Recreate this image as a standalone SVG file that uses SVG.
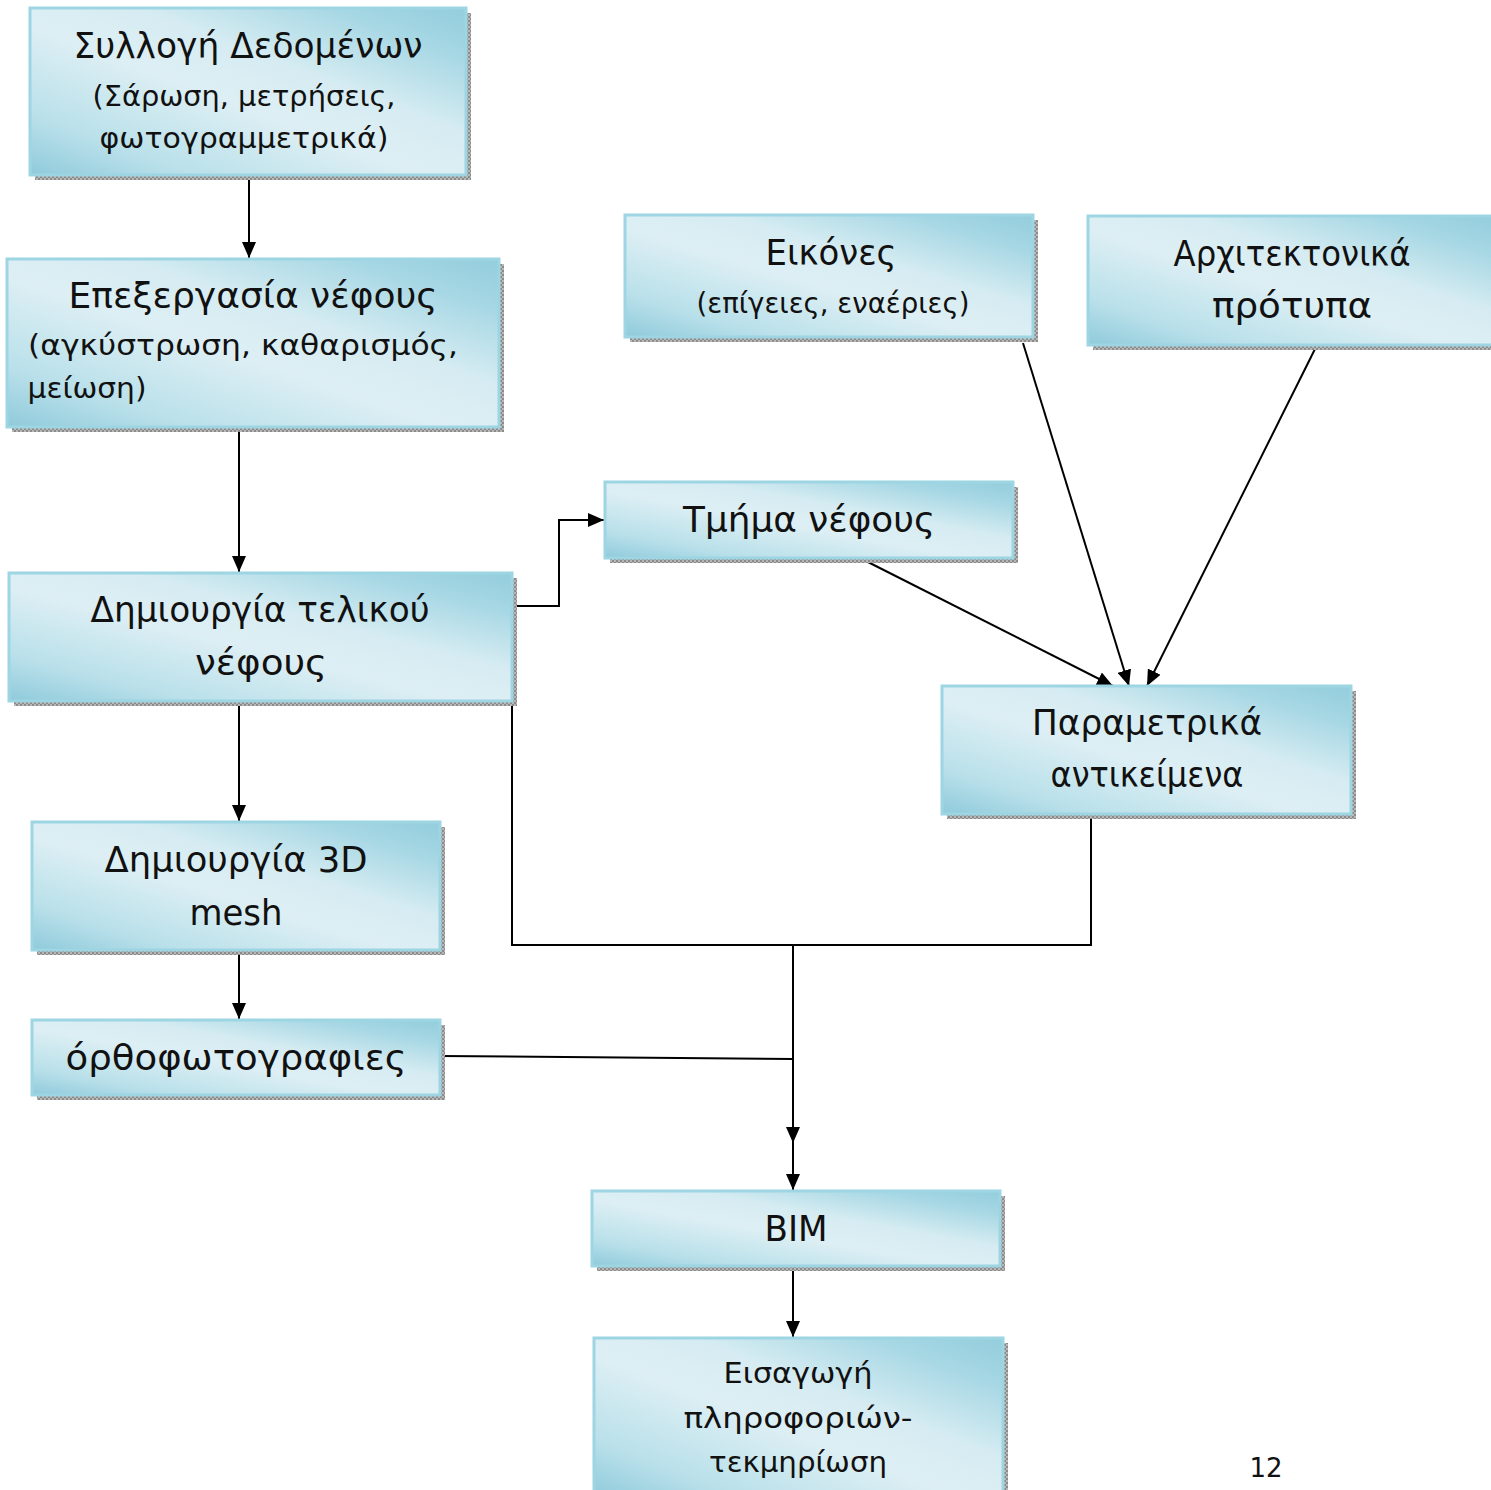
<svg xmlns="http://www.w3.org/2000/svg" width="1491" height="1490" viewBox="0 0 1491 1490">
<style>
.box{fill:url(#g);stroke:#9dd5e3;stroke-width:3}
.sh{fill:url(#dots)}
.t{font-family:"DejaVu Sans","Noto Sans",sans-serif;fill:#111;text-anchor:middle}
.l{font-size:35px}
.s{font-size:29px}
.c{fill:none;stroke:#000;stroke-width:2}
</style>
<defs>
<linearGradient id="g" x1="0" y1="1" x2="1" y2="0">
<stop offset="0" stop-color="#8fcadb"/>
<stop offset="0.18" stop-color="#b9e0ea"/>
<stop offset="0.45" stop-color="#ddeff4"/>
<stop offset="0.62" stop-color="#d6ecf2"/>
<stop offset="0.85" stop-color="#a6d7e4"/>
<stop offset="1" stop-color="#93cddc"/>
</linearGradient>
<pattern id="dots" width="4" height="4" patternUnits="userSpaceOnUse">
<rect width="4" height="4" fill="#b8b8b8"/>
<rect width="2" height="2" fill="#8a8a8a"/>
<rect x="2" y="2" width="2" height="2" fill="#8a8a8a"/>
</pattern>
<marker id="ah" markerUnits="userSpaceOnUse" markerWidth="18" markerHeight="14" refX="16" refY="7" orient="auto">
<path d="M0,0 L16,7 L0,14 Z" fill="#000"/>
</marker>
</defs>

<g id="connectors">
<path class="c" d="M249,175 V258" marker-end="url(#ah)"/>
<path class="c" d="M239,427 V572" marker-end="url(#ah)"/>
<path class="c" d="M513,606 H559 V520 H604" marker-end="url(#ah)"/>
<path class="c" d="M239,701 V821" marker-end="url(#ah)"/>
<path class="c" d="M239,950 V1019" marker-end="url(#ah)"/>
<path class="c" d="M512,701 V945 H1091 V814"/>
<path class="c" d="M793,945 V1143" marker-end="url(#ah)"/>
<path class="c" d="M793,1143 V1190" marker-end="url(#ah)"/>
<path class="c" d="M440,1056 L793,1059"/>
<path class="c" d="M793,1266 V1337" marker-end="url(#ah)"/>
<path class="c" d="M860,558 L1113,686" marker-end="url(#ah)"/>
<path class="c" d="M1023,343 L1129,686" marker-end="url(#ah)"/>
<path class="c" d="M1317,345 L1147,686" marker-end="url(#ah)"/>
</g>

<g id="n-sylogi">
<rect class="sh" x="35" y="13" width="436" height="167"/>
<rect class="box" x="30" y="8" width="436" height="167"/>
<text class="t l" x="248" y="58" textLength="349" lengthAdjust="spacingAndGlyphs">Συλλογή Δεδομένων</text>
<text class="t s" x="244" y="106" textLength="303" lengthAdjust="spacingAndGlyphs">(Σάρωση, μετρήσεις,</text>
<text class="t s" x="244" y="148" textLength="289" lengthAdjust="spacingAndGlyphs">φωτογραμμετρικά)</text>
</g>

<g id="n-epexergasia">
<rect class="sh" x="12" y="264" width="492" height="168"/>
<rect class="box" x="7" y="259" width="492" height="168"/>
<text class="t l" x="253" y="308" textLength="369" lengthAdjust="spacingAndGlyphs">Επεξεργασία νέφους</text>
<text class="t s" x="243" y="355" textLength="430" lengthAdjust="spacingAndGlyphs">(αγκύστρωση, καθαρισμός,</text>
<text class="t s" x="87" y="398" textLength="119" lengthAdjust="spacingAndGlyphs">μείωση)</text>
</g>

<g id="n-teliko">
<rect class="sh" x="14" y="578" width="503" height="128"/>
<rect class="box" x="9" y="573" width="503" height="128"/>
<text class="t l" x="260" y="622" textLength="339" lengthAdjust="spacingAndGlyphs">Δημιουργία τελικού</text>
<text class="t l" x="261" y="675" textLength="132" lengthAdjust="spacingAndGlyphs">νέφους</text>
</g>

<g id="n-mesh">
<rect class="sh" x="37" y="827" width="408" height="128"/>
<rect class="box" x="32" y="822" width="408" height="128"/>
<text class="t l" x="236" y="872" textLength="263" lengthAdjust="spacingAndGlyphs">Δημιουργία 3D</text>
<text class="t l" x="236" y="925" textLength="93" lengthAdjust="spacingAndGlyphs">mesh</text>
</g>

<g id="n-ortho">
<rect class="sh" x="37" y="1025" width="408" height="75"/>
<rect class="box" x="32" y="1020" width="408" height="75"/>
<text class="t l" x="236" y="1070" textLength="341" lengthAdjust="spacingAndGlyphs">όρθοφωτογραφιες</text>
</g>

<g id="n-eikones">
<rect class="sh" x="630" y="220" width="408" height="122"/>
<rect class="box" x="625" y="215" width="408" height="122"/>
<text class="t l" x="831" y="265" textLength="131" lengthAdjust="spacingAndGlyphs">Εικόνες</text>
<text class="t s" x="833" y="313" textLength="273" lengthAdjust="spacingAndGlyphs">(επίγειες, εναέριες)</text>
</g>

<g id="n-arxitektonika">
<rect class="sh" x="1093" y="221" width="410" height="129"/>
<rect class="box" x="1088" y="216" width="410" height="129"/>
<text class="t l" x="1292" y="266" textLength="237" lengthAdjust="spacingAndGlyphs">Αρχιτεκτονικά</text>
<text class="t l" x="1292" y="318" textLength="160" lengthAdjust="spacingAndGlyphs">πρότυπα</text>
</g>

<g id="n-tmima">
<rect class="sh" x="610" y="487" width="408" height="76"/>
<rect class="box" x="605" y="482" width="408" height="76"/>
<text class="t l" x="809" y="532" textLength="252" lengthAdjust="spacingAndGlyphs">Τμήμα νέφους</text>
</g>

<g id="n-parametrika">
<rect class="sh" x="947" y="691" width="409" height="128"/>
<rect class="box" x="942" y="686" width="409" height="128"/>
<text class="t l" x="1147" y="735" textLength="230" lengthAdjust="spacingAndGlyphs">Παραμετρικά</text>
<text class="t l" x="1147" y="787" textLength="193" lengthAdjust="spacingAndGlyphs">αντικείμενα</text>
</g>

<g id="n-bim">
<rect class="sh" x="597" y="1196" width="408" height="75"/>
<rect class="box" x="592" y="1191" width="408" height="75"/>
<text class="t l" x="796" y="1241" textLength="63" lengthAdjust="spacingAndGlyphs">BIM</text>
</g>

<g id="n-eisagogi">
<rect class="sh" x="599" y="1343" width="409" height="160"/>
<rect class="box" x="594" y="1338" width="409" height="160"/>
<text class="t s" x="798" y="1383" textLength="149" lengthAdjust="spacingAndGlyphs">Εισαγωγή</text>
<text class="t s" x="798" y="1428" textLength="229" lengthAdjust="spacingAndGlyphs">πληροφοριών-</text>
<text class="t s" x="798" y="1472" textLength="178" lengthAdjust="spacingAndGlyphs">τεκμηρίωση</text>
</g>

<text class="t" x="1266" y="1477" font-size="26">12</text>
</svg>
